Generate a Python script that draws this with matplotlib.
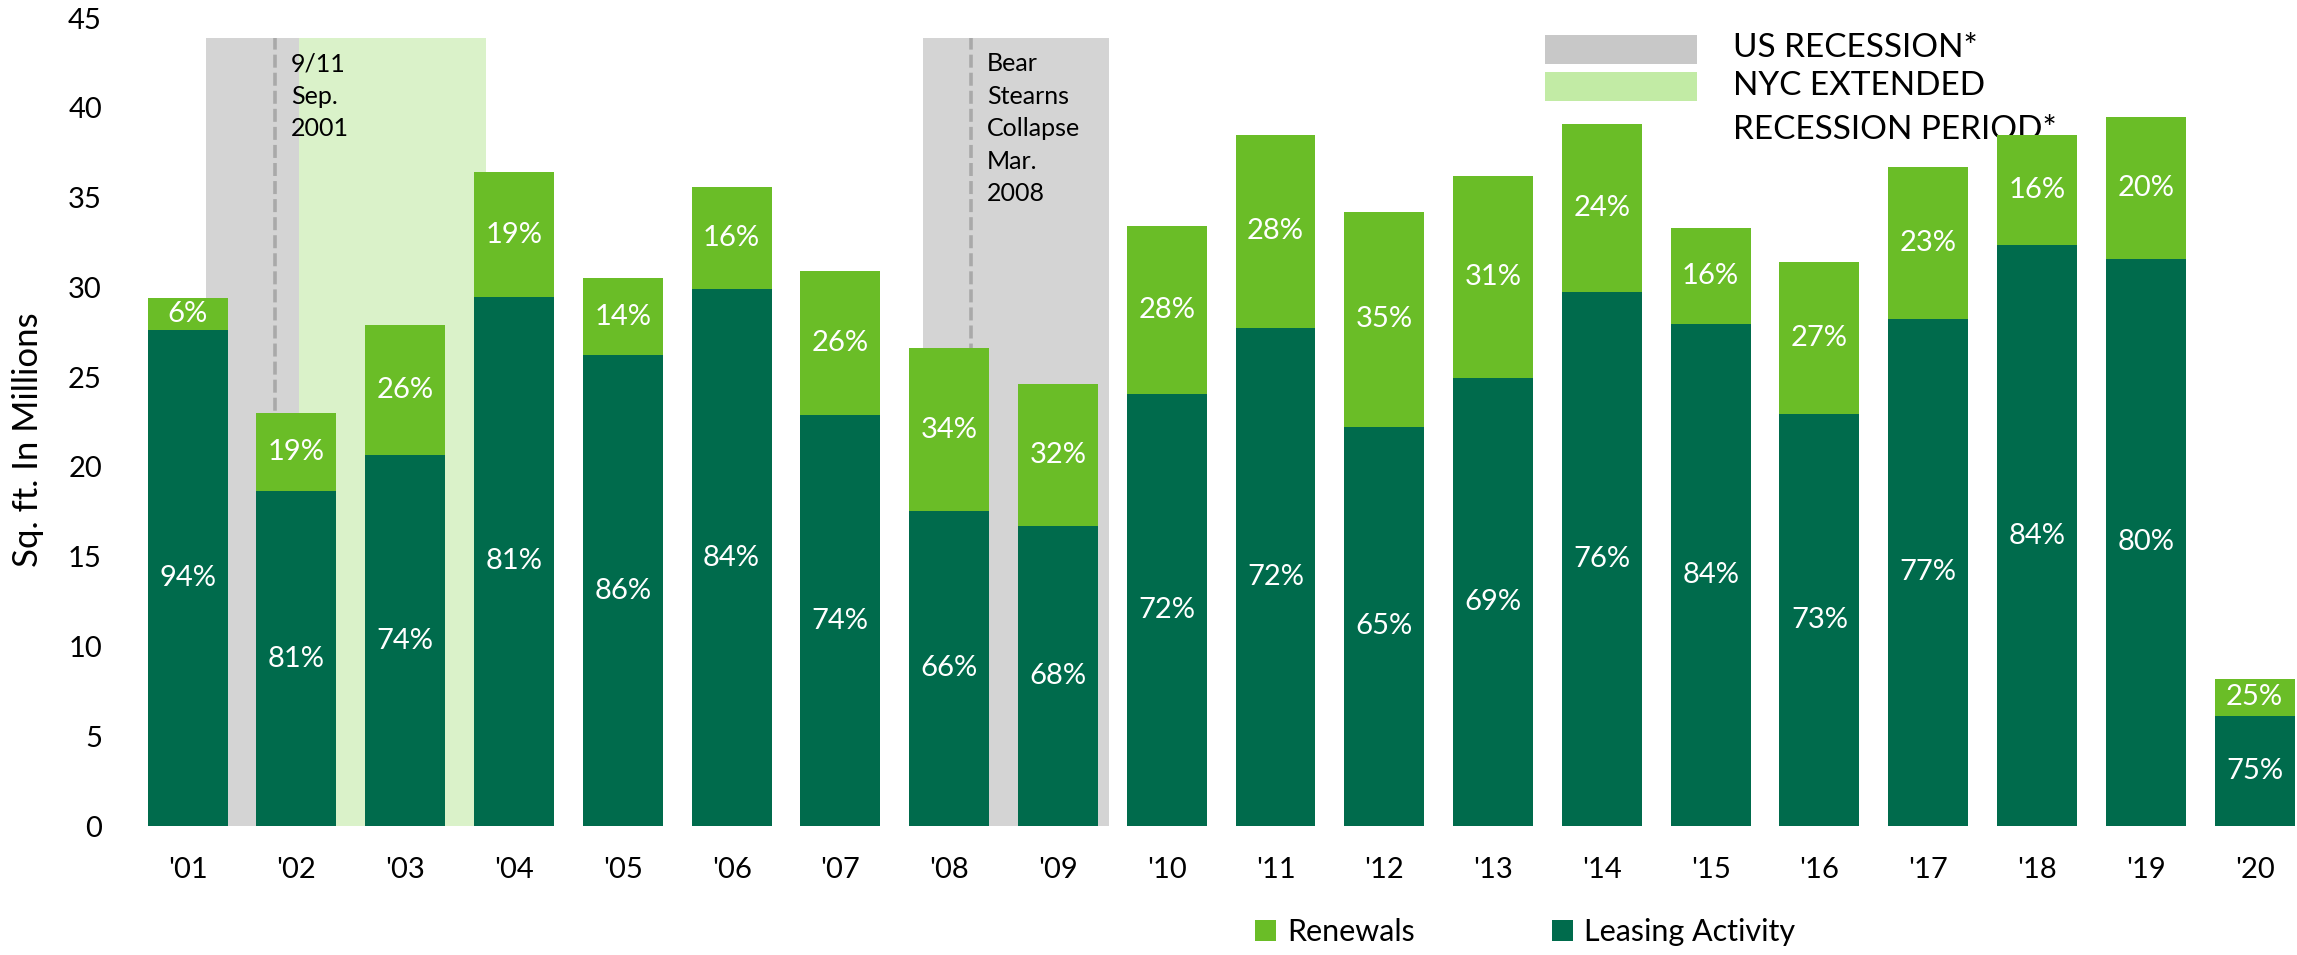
import matplotlib.pyplot as plt
import numpy as np
from matplotlib.patches import Rectangle

plt.rcParams['font.family'] = ['Lato', 'DejaVu Sans']

years = ["'01", "'02", "'03", "'04", "'05", "'06", "'07", "'08", "'09", "'10",
         "'11", "'12", "'13", "'14", "'15", "'16", "'17", "'18", "'19", "'20"]
totals = [29.4, 23.0, 27.9, 36.4, 30.5, 35.6, 30.9, 26.6, 24.6, 33.4,
          38.5, 34.2, 36.2, 39.1, 33.3, 31.4, 36.7, 38.5, 39.5, 8.2]
leasing_pct = [94, 81, 74, 81, 86, 84, 74, 66, 68, 72,
               72, 65, 69, 76, 84, 73, 77, 84, 80, 75]
renewal_pct = [6, 19, 26, 19, 14, 16, 26, 34, 32, 28,
               28, 35, 31, 24, 16, 27, 23, 16, 20, 25]

# shaded periods, in bar-index units
us_recessions = [(0.17, 1.02), (6.76, 8.47)]
nyc_extended = [(1.02, 2.74)]
events = [(0.80, "9/11\nSep.\n2001"), (7.20, "Bear\nStearns\nCollapse\nMar.\n2008")]

dark = '#006b4c'
light = '#6abd27'
gray_band = '#d4d4d4'
green_band = '#daf2c9'

tot = np.array(totals)
leasing = tot * np.array(leasing_pct) / 100
renewals = tot - leasing
x = np.arange(len(years))

fig = plt.figure(figsize=(22.97, 9.55), dpi=100)
ax = fig.add_axes([120 / 2297, 129 / 955, 1 - 120 / 2297, 808 / 955])

band_top = 43.9
for a, b in us_recessions:
    ax.axvspan(a, b, ymin=0, ymax=band_top / 45, color=gray_band, lw=0, zorder=0)
for a, b in nyc_extended:
    ax.axvspan(a, b, ymin=0, ymax=band_top / 45, color=green_band, lw=0, zorder=0)
for xe, txt in events:
    ax.plot([xe, xe], [0, band_top], color='#a9a9a9', lw=2.6,
            linestyle=(0, (3.6, 1.4)), zorder=1)
    ax.text(xe + 0.15, 43.1, txt, fontsize=18, va='top', ha='left',
            linespacing=1.5, zorder=1)

ax.bar(x, leasing, width=0.735, color=dark, zorder=3, label='Leasing Activity')
ax.bar(x, renewals, width=0.735, bottom=leasing, color=light, zorder=3, label='Renewals')

for i in range(len(x)):
    ax.text(x[i], leasing[i] / 2, f'{leasing_pct[i]}%', color='white',
            fontsize=21, ha='center', va='center', zorder=4)
    ax.text(x[i], leasing[i] + renewals[i] / 2, f'{renewal_pct[i]}%', color='white',
            fontsize=21, ha='center', va='center', zorder=4)

# period key at top right
ax.add_patch(Rectangle((0.6546, 0.943), 0.0698, 0.036, transform=ax.transAxes,
                       color='#c8c8c8', lw=0, zorder=1))
ax.add_patch(Rectangle((0.6546, 0.897), 0.0698, 0.036, transform=ax.transAxes,
                       color='#c2eba5', lw=0, zorder=1))
ax.text(0.741, 0.963, 'US RECESSION*', transform=ax.transAxes, fontsize=24,
        va='center', ha='left', zorder=1)
ax.text(0.741, 0.916, 'NYC EXTENDED', transform=ax.transAxes, fontsize=24,
        va='center', ha='left', zorder=1)
ax.text(0.741, 0.861, 'RECESSION PERIOD*', transform=ax.transAxes, fontsize=24,
        va='center', ha='left', zorder=1)

ax.set_xlim(-0.622, 19.39)
ax.set_ylim(0, 45)
ax.set_yticks(np.arange(0, 46, 5))
ax.set_xticks(x)
ax.set_xticklabels(years)
ax.tick_params(axis='both', length=0, labelsize=21)
ax.tick_params(axis='y', pad=13)
ax.tick_params(axis='x', pad=22)
for s in ax.spines.values():
    s.set_visible(False)

fig.text(28 / 2297, 1 - 440 / 955, 'Sq. ft. In Millions', rotation=90,
         fontsize=25, ha='center', va='center')

h, l = ax.get_legend_handles_labels()
fig.legend(h[::-1], l[::-1], loc='center', bbox_to_anchor=(1525 / 2297, 23 / 955),
           ncol=2, frameon=False, fontsize=22, handlelength=0.7, handleheight=0.7,
           handletextpad=0.35, columnspacing=4.5)

fig.savefig('out.png', dpi=100)
